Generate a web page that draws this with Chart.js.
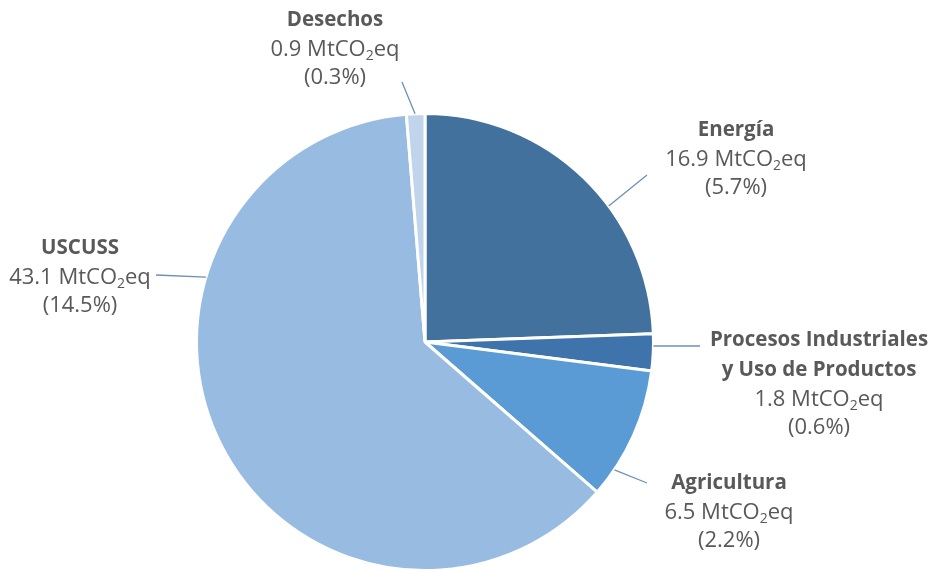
<!DOCTYPE html>
<html>
<head>
<meta charset="utf-8">
<script src="https://cdn.jsdelivr.net/npm/chart.js@4"></script>
<style>
  body { margin: 0; background: #fff; overflow: hidden; }
</style>
</head>
<body>
<canvas id="pieChart" width="930" height="580"></canvas>
<script>
const sectors = ['Energía', 'Procesos Industriales\ny Uso de Productos', 'Agricultura', 'USCUSS', 'Desechos'];
const emissions = [16.9, 1.8, 6.5, 43.1, 0.9];
const shares = ['5.7%', '0.6%', '2.2%', '14.5%', '0.3%'];
const sliceColors = ['#41719C', '#3F73AC', '#5B9BD5', '#98BBE2', '#C0D4EC'];

// where each label sits and where its leader line touches the pie
const labelSpots = [
  { x: 736, y: 130, angle: 53.5, end: [647, 175] },
  { x: 819, y: 340, angle: 91, end: [700, 346] },
  { x: 729, y: 483, angle: 124, end: [647, 483] },
  { x: 80, y: 248, angle: 286.5, end: [156, 275] },
  { x: 335, y: 20, angle: 357.5, end: [402, 82] }
];

const FONT = '"Open Sans"';

function drawValueLine(ctx, cx, y, value) {
  const main = '22px ' + FONT;
  const small = '14px ' + FONT;
  const a = value.toFixed(1) + ' MtCO', b = '2', c = 'eq';
  ctx.font = main;
  const wa = ctx.measureText(a).width, wc = ctx.measureText(c).width;
  ctx.font = small;
  const wb = ctx.measureText(b).width;
  let x = cx - (wa + wb + wc) / 2;
  ctx.textAlign = 'left';
  ctx.font = main;
  ctx.fillText(a, x, y);
  x += wa;
  ctx.font = small;
  ctx.fillText(b, x, y + 6);
  x += wb;
  ctx.font = main;
  ctx.fillText(c, x, y);
}

const calloutPlugin = {
  id: 'callouts',
  afterDraw(chart) {
    const ctx = chart.ctx;
    const arcs = chart.getDatasetMeta(0).data;
    ctx.save();
    arcs.forEach((arc, i) => {
      const spot = labelSpots[i];
      const rad = spot.angle * Math.PI / 180;
      const sx = arc.x + arc.outerRadius * Math.sin(rad);
      const sy = arc.y - arc.outerRadius * Math.cos(rad);
      ctx.strokeStyle = '#6F8FB6';
      ctx.lineWidth = 1.3;
      ctx.beginPath();
      ctx.moveTo(sx, sy);
      ctx.lineTo(spot.end[0], spot.end[1]);
      ctx.stroke();

      ctx.fillStyle = '#595959';
      ctx.textBaseline = 'middle';
      ctx.textAlign = 'center';
      let y = spot.y;
      sectors[i].split('\n').forEach(line => {
        ctx.font = 'bold 20.5px ' + FONT;
        ctx.fillText(line, spot.x, y);
        y += 30;
      });
      drawValueLine(ctx, spot.x, y, emissions[i]);
      y += 28;
      ctx.font = '22px ' + FONT;
      ctx.textAlign = 'center';
      ctx.fillText('(' + shares[i] + ')', spot.x, y);
    });
    ctx.restore();
  }
};

new Chart(document.getElementById('pieChart').getContext('2d'), {
  type: 'pie',
  data: {
    labels: sectors,
    datasets: [{
      data: emissions,
      backgroundColor: sliceColors,
      borderColor: '#ffffff',
      borderWidth: 3
    }]
  },
  options: {
    responsive: false,
    animation: false,
    layout: {
      padding: { left: 195, right: 275, top: 112, bottom: 8 }
    },
    plugins: {
      legend: { display: false },
      tooltip: { enabled: false }
    }
  },
  plugins: [calloutPlugin]
});
</script>
</body>
</html>
